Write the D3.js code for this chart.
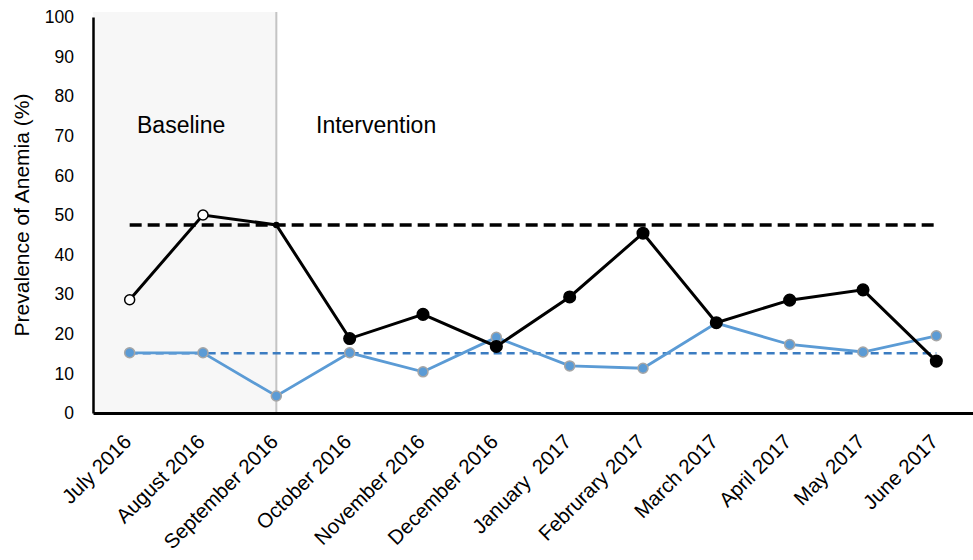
<!DOCTYPE html>
<html>
<head>
<meta charset="utf-8">
<script src="https://cdn.jsdelivr.net/npm/d3@7"></script>
<style>
  body { margin: 0; background: #fff; }
  svg { font-family: "Liberation Sans", Arial, sans-serif; }
</style>
</head>
<body>
<svg id="chart" width="973" height="560"></svg>
<script>
// chart data
const months = ['July 2016', 'August 2016', 'September 2016', 'October 2016', 'November 2016',
    'December 2016', 'January  2017', 'Februrary 2017', 'March 2017', 'April 2017', 'May 2017', 'June 2017'];
const anemiaAll = [28.6, 50, 47.5, 18.8, 24.9, 16.8, 29.3, 45.4, 22.8, 28.5, 31.1, 13.1];
const anemiaBlue = [15.2, 15.2, 4.3, 15.2, 10.4, 19.1, 11.9, 11.3, 22.7, 17.3, 15.4, 19.5];
const baselineMeanBlack = 47.5;
const baselineMeanBlue = 15.1;
const yTicks = [0, 10, 20, 30, 40, 50, 60, 70, 80, 90, 100];
const baselineCount = 3; // first three months are baseline

const svg = d3.select('#chart');
const margin = {top: 17, right: 0, bottom: 147, left: 93};
const width = 973 - margin.left - margin.right;
const height = 560 - margin.top - margin.bottom;

const x = d3.scaleBand().domain(months).range([margin.left, margin.left + width]);
const y = d3.scaleLinear().domain([0, 100]).range([margin.top + height, margin.top]);
const cx = d => x(d) + x.bandwidth() / 2;

// baseline shaded phase
const splitX = cx(months[baselineCount - 1]);
svg.append('rect')
    .attr('x', margin.left)
    .attr('y', y(100) - 5)
    .attr('width', splitX - margin.left)
    .attr('height', y(0) - y(100) + 5)
    .attr('fill', '#f7f7f7');
svg.append('line')
    .attr('x1', splitX).attr('x2', splitX)
    .attr('y1', y(100) - 5).attr('y2', y(0))
    .attr('stroke', '#c4c4c4').attr('stroke-width', 2);

svg.append('text').attr('x', 137).attr('y', y(72) + 5.5)
    .style('font-size', '23px').text('Baseline');
svg.append('text').attr('x', 316).attr('y', y(72) + 5.5)
    .style('font-size', '23px').text('Intervention');

// y axis
const yAxis = svg.append('g')
    .attr('transform', 'translate(' + margin.left + ',0)')
    .call(d3.axisLeft(y).tickValues(yTicks).tickSize(0).tickPadding(19));
yAxis.attr('font-size', null).attr('font-family', null);
yAxis.select('.domain').attr('stroke', '#000').attr('stroke-width', 2.5);
yAxis.selectAll('text')
    .style('font-size', '17.5px')
    .style('font-family', '"Liberation Sans", Arial, sans-serif')
    .attr('fill', '#000');

// x axis
const xAxis = svg.append('g')
    .attr('transform', 'translate(0,' + y(0) + ')')
    .call(d3.axisBottom(x).tickSize(0).tickSizeOuter(0));
xAxis.attr('font-size', null).attr('font-family', null);
xAxis.select('.domain').attr('stroke', '#000').attr('stroke-width', 3);
xAxis.selectAll('text')
    .style('font-size', '20.5px')
    .style('font-family', '"Liberation Sans", Arial, sans-serif')
    .style('white-space', 'pre')
    .attr('fill', '#000')
    .attr('text-anchor', 'end')
    .attr('x', 0).attr('y', 0).attr('dy', 0)
    .attr('transform', 'translate(3,30) rotate(-45)');

// y axis title
svg.append('text')
    .attr('transform', 'translate(29,' + y(50) + ') rotate(-90)')
    .attr('text-anchor', 'middle')
    .style('font-size', '21px')
    .text('Prevalence of Anemia (%)');

// baseline mean dashed lines
const first = cx(months[0]), last = cx(months[months.length - 1]);
svg.append('line')
    .attr('x1', first).attr('x2', last)
    .attr('y1', y(baselineMeanBlack)).attr('y2', y(baselineMeanBlack))
    .attr('stroke', '#000').attr('stroke-width', 3.5).attr('stroke-dasharray', '12,6');
svg.append('line')
    .attr('x1', first).attr('x2', last)
    .attr('y1', y(baselineMeanBlue)).attr('y2', y(baselineMeanBlue))
    .attr('stroke', '#3b7cc1').attr('stroke-width', 2.5).attr('stroke-dasharray', '8,5');

const line = d3.line()
    .x((d, i) => cx(months[i]))
    .y(d => y(d));

// blue series
svg.append('path').datum(anemiaBlue)
    .attr('d', line).attr('fill', 'none')
    .attr('stroke', '#5b9bd5').attr('stroke-width', 2.8);
svg.selectAll('.blue-dot').data(anemiaBlue).enter().append('circle')
    .attr('class', 'blue-dot')
    .attr('cx', (d, i) => cx(months[i])).attr('cy', d => y(d))
    .attr('r', 5).attr('fill', '#5b9bd5')
    .attr('stroke', '#a6a6a6').attr('stroke-width', 1.5);

// black series
svg.append('path').datum(anemiaAll)
    .attr('d', line).attr('fill', 'none')
    .attr('stroke', '#000').attr('stroke-width', 3);
svg.selectAll('.black-dot').data(anemiaAll).enter().append('circle')
    .attr('class', 'black-dot')
    .attr('cx', (d, i) => cx(months[i])).attr('cy', d => y(d))
    .attr('r', (d, i) => i === 2 ? 2.5 : (i < 2 ? 5 : 5.8))
    .attr('fill', (d, i) => i < 2 ? '#fff' : '#000')
    .attr('stroke', '#000').attr('stroke-width', 1.5);
</script>
</body>
</html>
